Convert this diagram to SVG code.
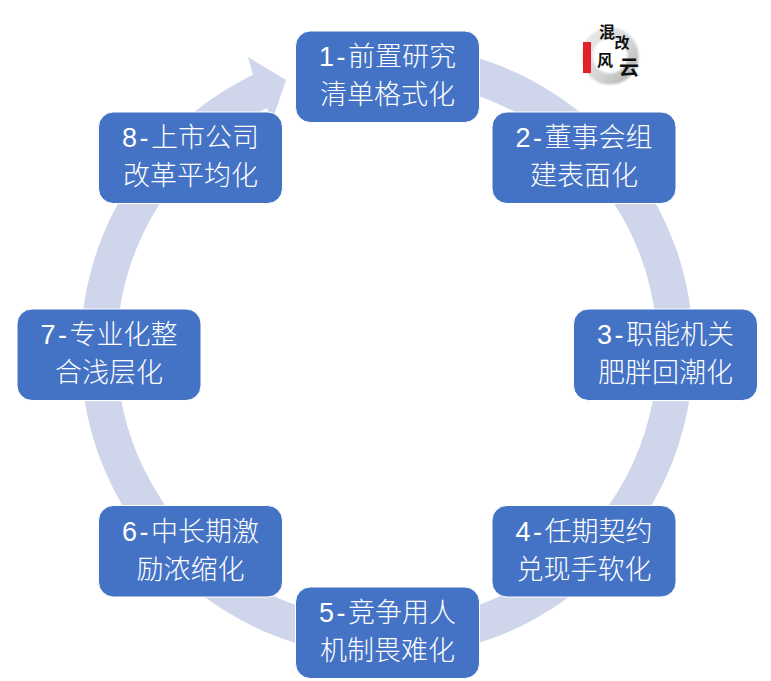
<svg xmlns="http://www.w3.org/2000/svg" width="771" height="681" viewBox="0 0 771 681">
<style>
.box{fill:#4472c4;stroke:#fff;stroke-width:1}
.t{font-family:"Noto Sans CJK SC",sans-serif;font-size:27px;fill:#fff;text-anchor:middle;font-weight:300}
.n{font-family:"Liberation Sans",sans-serif;font-weight:400;letter-spacing:2.5px}
.ring{fill:#cfd5ea}
.lg{font-family:"Noto Sans CJK SC",sans-serif;font-weight:700;text-anchor:middle;fill:#111}
</style>
<defs>
<linearGradient id="wash" x1="0" y1="0" x2="1" y2="1"><stop offset="0" stop-color="#e9e9e9"/><stop offset="0.6" stop-color="#d4d4d4"/><stop offset="1" stop-color="#b4b4b4"/></linearGradient>
<filter id="soft" x="-20%" y="-20%" width="140%" height="140%"><feGaussianBlur stdDeviation="1.2"/></filter>
</defs>
<rect width="771" height="681" fill="#fff"/>
<g id="connectors">
<path class="ring" d="M387,44 A306.500,306.500 0 1 1 253,74.800 L248,57 L286,80 L272,121 L267,108.100 A270.500,270.500 0 1 0 387,80 Z"/>
</g>
<g id="logo">
<circle cx="610" cy="56" r="23" fill="none" stroke="url(#wash)" stroke-width="11" filter="url(#soft)"/>
<rect x="583" y="42" width="8" height="31" fill="#e0222a"/>
<text class="lg" x="607" y="38" font-size="16">混</text>
<text class="lg" x="622" y="48" font-size="15">改</text>
<text class="lg" x="605" y="66" font-size="16">风</text>
<text class="lg" x="629" y="75" font-size="20">云</text>
</g>
<g id="node1"><rect class="box" x="295.500" y="31" width="184" height="91.500" rx="15"/><text class="t" x="387.500" y="66"><tspan class="n">1-</tspan>前置研究</text><text class="t" x="387.500" y="104">清单格式化</text></g>
<g id="node2"><rect class="box" x="492" y="112" width="184" height="91.500" rx="15"/><text class="t" x="584" y="147"><tspan class="n">2-</tspan>董事会组</text><text class="t" x="584" y="185">建表面化</text></g>
<g id="node3"><rect class="box" x="573.500" y="309" width="184" height="91.500" rx="15"/><text class="t" x="665.500" y="344"><tspan class="n">3-</tspan>职能机关</text><text class="t" x="665.500" y="382">肥胖回潮化</text></g>
<g id="node4"><rect class="box" x="492" y="505.500" width="184" height="91.500" rx="15"/><text class="t" x="584" y="541"><tspan class="n">4-</tspan>任期契约</text><text class="t" x="584" y="579">兑现手软化</text></g>
<g id="node5"><rect class="box" x="295.500" y="587" width="184" height="91.500" rx="15"/><text class="t" x="387.500" y="622"><tspan class="n">5-</tspan>竞争用人</text><text class="t" x="387.500" y="660">机制畏难化</text></g>
<g id="node6"><rect class="box" x="98.500" y="505.500" width="184" height="91.500" rx="15"/><text class="t" x="190.500" y="541"><tspan class="n">6-</tspan>中长期激</text><text class="t" x="190.500" y="579">励浓缩化</text></g>
<g id="node7"><rect class="box" x="17" y="309" width="184" height="91.500" rx="15"/><text class="t" x="109" y="344"><tspan class="n">7-</tspan>专业化整</text><text class="t" x="109" y="382">合浅层化</text></g>
<g id="node8"><rect class="box" x="98.500" y="112" width="184" height="91.500" rx="15"/><text class="t" x="190.500" y="147"><tspan class="n">8-</tspan>上市公司</text><text class="t" x="190.500" y="185">改革平均化</text></g>
</svg>
